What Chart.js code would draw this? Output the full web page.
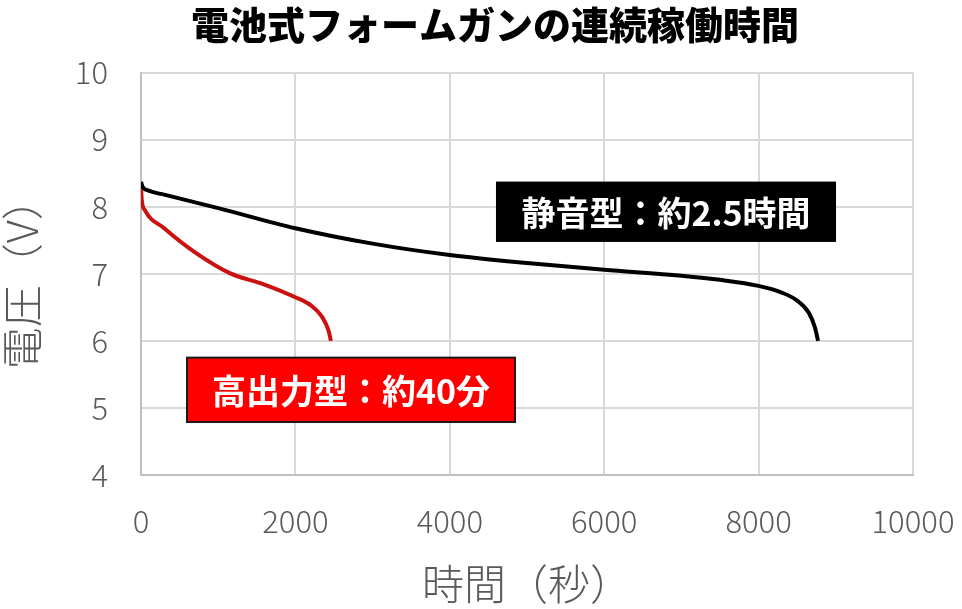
<!DOCTYPE html>
<html>
<head>
<meta charset="utf-8">
<script src="https://cdn.jsdelivr.net/npm/chart.js@4.4.1/dist/chart.umd.min.js"></script>
<style>
  html, body { margin: 0; padding: 0; background: #fff; }
  #wrap { width: 962px; height: 609px; }
</style>
</head>
<body>
<div id="wrap"><canvas id="chart"></canvas></div>
<script>
// ===============================
// DATA
// ===============================
const quietTime = [0, 20, 100, 300, 1000, 2000, 3000, 4000, 5000, 6000, 7000, 7500, 8000, 8300, 8500, 8650, 8730, 8770];
const quietVolt = [8.37, 8.3, 8.24, 8.18, 7.98, 7.68, 7.45, 7.28, 7.16, 7.06, 6.97, 6.91, 6.82, 6.72, 6.6, 6.42, 6.2, 6.0];

const powerTime = [0, 10, 50, 300, 700, 1150, 1600, 2000, 2200, 2350, 2430, 2460];
const powerVolt = [8.3, 8.1, 7.95, 7.68, 7.32, 7.01, 6.84, 6.65, 6.53, 6.35, 6.15, 6.0];

const xTicks = [0, 2000, 4000, 6000, 8000, 10000];
const yTicks = [4, 5, 6, 7, 8, 9, 10];

const labelQuiet = "静音型：約2.5時間";
const labelPower = "高出力型：約40分";

const FONT = "'Noto Sans CJK JP', 'Noto Sans', sans-serif";

function toPoints(xs, ys) {
  return xs.map((x, i) => ({ x: x, y: ys[i] }));
}

// ===============================
// LABEL BOXES (data coordinates)
// ===============================
const labelBoxes = {
  id: "labelBoxes",
  afterDatasetsDraw(chart) {
    const { ctx, scales: { x, y } } = chart;
    const boxes = [
      { text: labelQuiet, x0: 4611, x1: 8990, y0: 8.36, y1: 7.49, fill: "#000000", border: "#000000" },
      { text: labelPower, x0: 596, x1: 4845, y0: 5.75, y1: 4.79, fill: "#ff0000", border: "#1a1a1a" }
    ];
    ctx.save();
    boxes.forEach(b => {
      const left = x.getPixelForValue(b.x0);
      const right = x.getPixelForValue(b.x1);
      const top = y.getPixelForValue(b.y0);
      const bottom = y.getPixelForValue(b.y1);
      ctx.fillStyle = b.fill;
      ctx.fillRect(left, top, right - left, bottom - top);
      ctx.lineWidth = 2;
      ctx.strokeStyle = b.border;
      ctx.strokeRect(left, top, right - left, bottom - top);
      ctx.fillStyle = "#ffffff";
      ctx.font = "bold 34px " + FONT;
      ctx.textAlign = "center";
      ctx.textBaseline = "middle";
      ctx.fillText(b.text, (left + right) / 2, (top + bottom) / 2 + 1);
    });
    ctx.restore();
  }
};

// ===============================
// CHART
// ===============================
new Chart(document.getElementById("chart"), {
  type: "line",
  data: {
    datasets: [
      {
        label: "静音型",
        data: toPoints(quietTime, quietVolt),
        borderColor: "#000000",
        borderWidth: 4,
        pointRadius: 0,
        cubicInterpolationMode: "monotone"
      },
      {
        label: "高出力型",
        data: toPoints(powerTime, powerVolt),
        borderColor: "#cc1111",
        borderWidth: 4,
        pointRadius: 0,
        cubicInterpolationMode: "monotone"
      }
    ]
  },
  options: {
    responsive: true,
    maintainAspectRatio: false,
    animation: false,
    // left padding only shifts the title centre; the y axis box below takes it back
    layout: { padding: { left: 28, right: 0, top: 0, bottom: 0 } },
    plugins: {
      legend: { display: false },
      tooltip: { enabled: false },
      title: {
        display: true,
        text: "電池式フォームガンの連続稼働時間",
        color: "#000000",
        font: { family: FONT, size: 38, weight: "900" },
        padding: { top: 2, bottom: 25 }
      }
    },
    scales: {
      x: {
        type: "linear",
        min: 0,
        max: 10000,
        afterBuildTicks: s => { s.ticks = xTicks.map(v => ({ value: v })); },
        afterFit: s => { s.height = 134; s.paddingRight = 49; },
        grid: { color: "#d9d9d9", lineWidth: 2, drawTicks: false },
        border: { color: "#bfbfbf", width: 2 },
        ticks: {
          color: "#595959",
          padding: 28,
          font: { family: FONT, size: 31, weight: "300" },
          callback: v => String(v)
        },
        title: {
          display: true,
          text: "時間（秒）",
          color: "#595959",
          font: { family: FONT, size: 42, weight: "300" },
          padding: { top: 0, bottom: 0 }
        }
      },
      y: {
        min: 4,
        max: 10,
        afterBuildTicks: s => { s.ticks = yTicks.map(v => ({ value: v })); },
        afterFit: s => { s.width = 113; },
        grid: { color: "#d9d9d9", lineWidth: 2, drawTicks: false },
        border: { color: "#bfbfbf", width: 2 },
        ticks: { color: "#595959", padding: 33, font: { family: FONT, size: 31, weight: "300" } },
        title: {
          display: true,
          text: "電圧（V）",
          color: "#595959",
          font: { family: FONT, size: 42, weight: "300" },
          padding: { top: -31, bottom: 0 }
        }
      }
    }
  },
  plugins: [labelBoxes]
});
</script>
</body>
</html>
